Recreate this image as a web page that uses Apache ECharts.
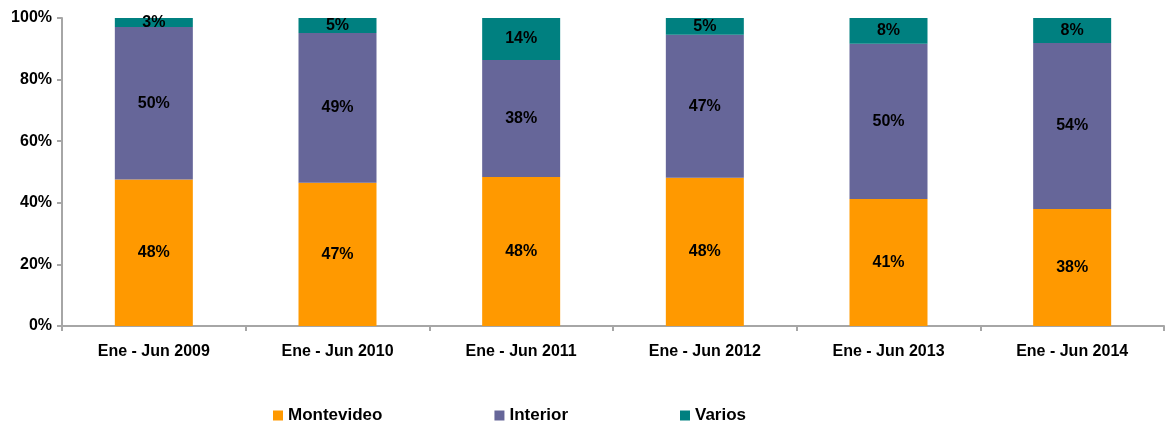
<!DOCTYPE html>
<html><head><meta charset="utf-8">
<script src="https://cdn.jsdelivr.net/npm/echarts@6/dist/echarts.min.js"></script>
<style>html,body{margin:0;padding:0;background:#fff}#c{width:1167px;height:428px}</style>
</head><body><div id="c"></div>
<script>
const categories = ['Ene - Jun 2009','Ene - Jun 2010','Ene - Jun 2011','Ene - Jun 2012','Ene - Jun 2013','Ene - Jun 2014'];
const montevideo = [47.6, 46.5, 48.4, 48.1, 41.2, 38.0];
const interior = [49.5, 48.6, 38.0, 46.5, 50.4, 53.9];
const varios = [2.9, 4.9, 13.6, 5.4, 8.4, 8.1];
const yTicks = [0, 20, 40, 60, 80, 100];

const font = 'Liberation Sans, Arial, sans-serif';
const lbl = {show:true, position:'inside', color:'#000', fontFamily:font, fontWeight:'bold', fontSize:16,
  formatter: p => Math.round(p.value) + '%'};
function ser(name, data, color){
  return {name, type:'bar', stack:'t', data, barWidth:78, itemStyle:{color}, label:lbl};
}
const chart = echarts.init(document.getElementById('c'));
chart.setOption({
  animation:false,
  grid:{left:62, right:3, top:18, bottom:102, containLabel:false},
  legend:{top:407, left:273, padding:0, itemWidth:10, itemHeight:10, itemGap:112, icon:'rect',
    textStyle:{fontFamily:font, fontWeight:'bold', fontSize:17, color:'#000'},
    data:['Montevideo','Interior','Varios']},
  xAxis:{type:'category', data:categories,
    axisLine:{lineStyle:{color:'#A6A6A6', width:2}},
    axisTick:{show:true, length:5, interval:0, lineStyle:{color:'#A6A6A6', width:2}},
    axisLabel:{color:'#000', fontFamily:font, fontWeight:'bold', fontSize:16, margin:18}},
  yAxis:{type:'value', min:0, max:100, interval:20,
    axisLine:{show:true, lineStyle:{color:'#A6A6A6', width:2}},
    axisTick:{show:true, length:5, lineStyle:{color:'#A6A6A6', width:2}},
    splitLine:{show:false},
    axisLabel:{color:'#000', fontFamily:font, fontWeight:'bold', fontSize:16, margin:10,
      formatter: v => yTicks.includes(v) ? v + '%' : ''}},
  series:[ser('Montevideo', montevideo, '#FF9900'), ser('Interior', interior, '#666699'), ser('Varios', varios, '#008080')]
});
</script></body></html>
